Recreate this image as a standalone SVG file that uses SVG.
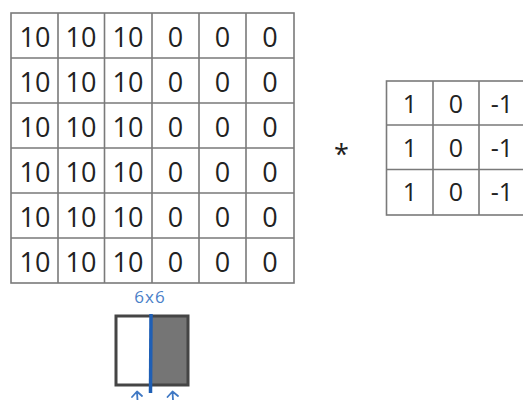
<svg xmlns="http://www.w3.org/2000/svg" width="523" height="400" viewBox="0 0 523 400">
<style>
.g{stroke:#7a7a7a;stroke-width:1.6;fill:none}
.t{font-family:"Open Sans","DejaVu Sans",sans-serif;font-size:27px;fill:#222;text-anchor:middle}
.f{font-size:25px;font-weight:500}
.hb{stroke:#3f78c4;stroke-width:1.8;fill:none;stroke-linecap:round;stroke-linejoin:round}
</style>
<rect width="523" height="400" fill="#ffffff"/>
<g id="input-matrix">
<rect x="11" y="13" width="283" height="270" fill="#fdfdfd" class="g"/>
<path class="g" d="M58 13V283M104.5 13V283M152 13V283M199 13V283M246 13V283M11 58H294M11 103H294M11 148H294M11 193H294M11 238H294"/>
<g class="t">
<text x="35" y="47">10</text><text x="81" y="47">10</text><text x="128" y="47">10</text><text x="175.5" y="47">0</text><text x="222.5" y="47">0</text><text x="270" y="47">0</text>
<text x="35" y="92">10</text><text x="81" y="92">10</text><text x="128" y="92">10</text><text x="175.5" y="92">0</text><text x="222.5" y="92">0</text><text x="270" y="92">0</text>
<text x="35" y="137">10</text><text x="81" y="137">10</text><text x="128" y="137">10</text><text x="175.5" y="137">0</text><text x="222.5" y="137">0</text><text x="270" y="137">0</text>
<text x="35" y="182">10</text><text x="81" y="182">10</text><text x="128" y="182">10</text><text x="175.5" y="182">0</text><text x="222.5" y="182">0</text><text x="270" y="182">0</text>
<text x="35" y="227">10</text><text x="81" y="227">10</text><text x="128" y="227">10</text><text x="175.5" y="227">0</text><text x="222.5" y="227">0</text><text x="270" y="227">0</text>
<text x="35" y="272">10</text><text x="81" y="272">10</text><text x="128" y="272">10</text><text x="175.5" y="272">0</text><text x="222.5" y="272">0</text><text x="270" y="272">0</text>
</g>
</g>
<g id="operator">
<text x="341.5" y="164" class="t">*</text>
</g>
<g id="filter">
<rect x="386.5" y="81" width="140" height="134" fill="#fdfdfd" class="g"/>
<path class="g" d="M433 81V215M479 81V215M386.5 125H526M386.5 169.5H526"/>
<g class="t f">
<text x="410" y="113">1</text><text x="456" y="113">0</text><text x="502" y="113">-1</text>
<text x="410" y="157">1</text><text x="456" y="157">0</text><text x="502" y="157">-1</text>
<text x="410" y="201">1</text><text x="456" y="201">0</text><text x="502" y="201">-1</text>
</g>
</g>
<g id="size-label">
<text x="150" y="303" font-family="'Open Sans',sans-serif" font-size="17" letter-spacing="1" fill="#4a80c8" text-anchor="middle">6x6</text>
</g>
<g id="image-sketch">
<rect x="151.5" y="316" width="36.5" height="69" fill="#757575"/>
<rect x="116" y="316" width="72" height="69" fill="none" stroke="#454545" stroke-width="3"/>
<path d="M151 314L150.5 393" stroke="#1f5fb5" stroke-width="3.5" fill="none"/>
</g>
<g id="connectors">
<path class="hb" d="M137.5 400L137 392M132 397L137 391.5L142 396"/>
<path class="hb" d="M173 400L172.5 392M167.5 397L172.5 391.5L178 396"/>
</g>
</svg>
